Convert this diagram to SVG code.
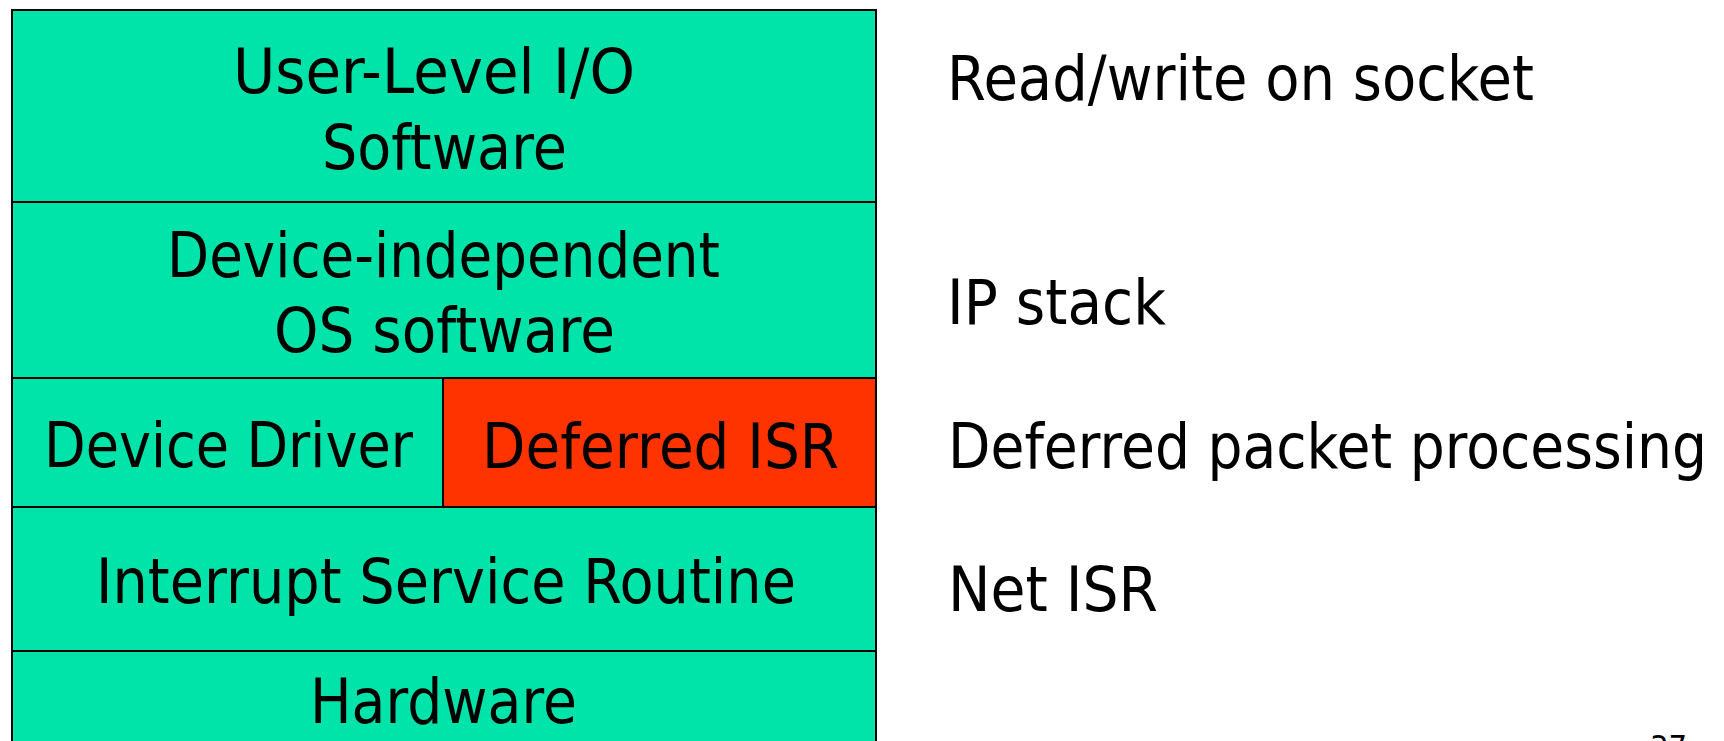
<svg xmlns="http://www.w3.org/2000/svg" width="1724" height="741" viewBox="0 0 1724 741">
<style>
.layer{fill:#00E3A9;stroke:#000;stroke-width:2}
.hot{fill:#FF3300;stroke:#000;stroke-width:2}
text{font-family:"DejaVu Sans","Liberation Sans",sans-serif;font-size:62px;fill:#000}
.pg{font-size:34px}
</style>
<rect width="1724" height="741" fill="#fff"/>
<g id="user-level">
<rect class="layer" x="12" y="10" width="864" height="192"/>
<text x="233" y="93" textLength="402" lengthAdjust="spacingAndGlyphs">User-Level I/O</text>
<text x="322" y="169" textLength="245" lengthAdjust="spacingAndGlyphs">Software</text>
</g>
<g id="device-independent">
<rect class="layer" x="12" y="202" width="864" height="176"/>
<text x="167" y="277" textLength="553" lengthAdjust="spacingAndGlyphs">Device-independent</text>
<text x="274" y="352" textLength="341" lengthAdjust="spacingAndGlyphs">OS software</text>
</g>
<g id="device-driver">
<rect class="layer" x="12" y="378" width="431" height="129"/>
<text x="44" y="467" textLength="369" lengthAdjust="spacingAndGlyphs">Device Driver</text>
</g>
<g id="deferred-isr">
<rect class="hot" x="443" y="378" width="433" height="129"/>
<text x="482" y="468" textLength="357" lengthAdjust="spacingAndGlyphs">Deferred ISR</text>
</g>
<g id="isr">
<rect class="layer" x="12" y="507" width="864" height="144"/>
<text x="96" y="603" textLength="700" lengthAdjust="spacingAndGlyphs">Interrupt Service Routine</text>
</g>
<g id="hardware">
<rect class="layer" x="12" y="651" width="864" height="120"/>
<text x="310" y="723" textLength="267" lengthAdjust="spacingAndGlyphs">Hardware</text>
</g>
<g id="connectors"></g>
<g id="annotations">
<text x="947" y="100" textLength="587" lengthAdjust="spacingAndGlyphs">Read/write on socket</text>
<text x="947" y="324" textLength="219" lengthAdjust="spacingAndGlyphs">IP stack</text>
<text x="948" y="468" textLength="759" lengthAdjust="spacingAndGlyphs">Deferred packet processing</text>
<text x="948" y="611" textLength="210" lengthAdjust="spacingAndGlyphs">Net ISR</text>
<text class="pg" x="1650" y="760" textLength="37" lengthAdjust="spacingAndGlyphs">37</text>
</g>
</svg>
